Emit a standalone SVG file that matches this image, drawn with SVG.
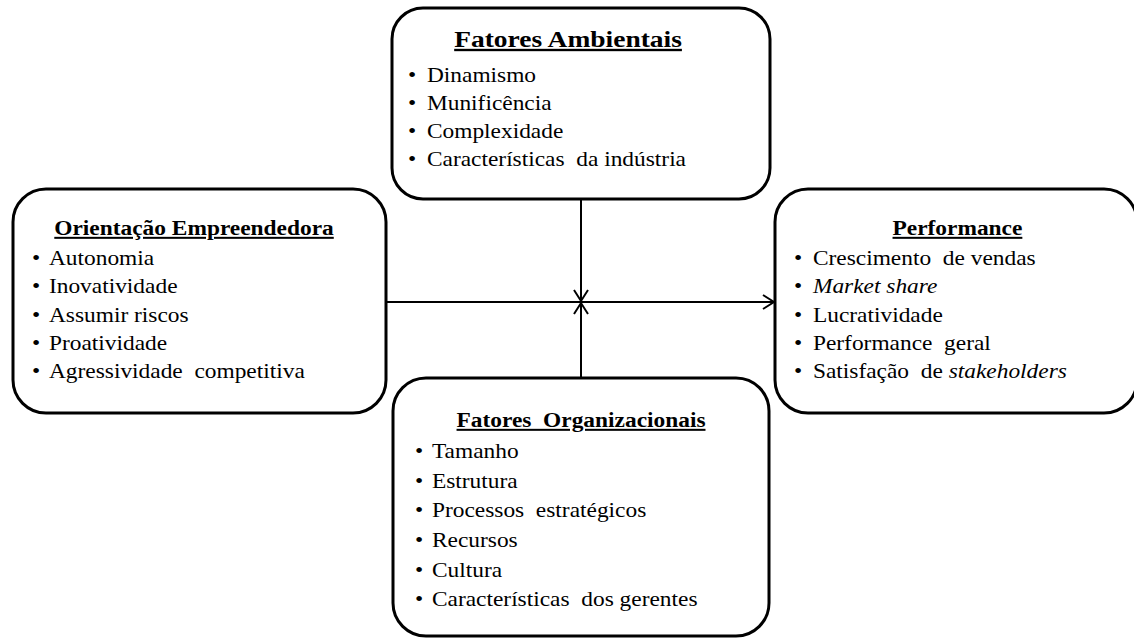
<svg xmlns="http://www.w3.org/2000/svg" width="1134" height="639" viewBox="0 0 1134 639">
  <style>
    .box { fill: #ffffff; stroke: #000000; stroke-width: 3; }
    text { font-family: "Liberation Serif", "Times New Roman", serif; font-size: 20px; fill: #000; white-space: pre; }
    .title { font-weight: bold; text-anchor: middle; text-decoration: underline; }
    .big { font-size: 23.5px; }
    .it { font-style: italic; }
    .conn { stroke: #000; stroke-width: 2; fill: none; }
  </style>
  <defs>
    <marker id="arrow" markerUnits="userSpaceOnUse" markerWidth="16" markerHeight="18" refX="12" refY="8" orient="auto">
      <path d="M1,1 L12,8 L1,15" fill="none" stroke="#000" stroke-width="2"/>
    </marker>
  </defs>

  <!-- connectors -->
  <g id="connectors">
    <line class="conn" x1="386" y1="302" x2="774" y2="302" marker-end="url(#arrow)"/>
    <line class="conn" x1="581" y1="199" x2="581" y2="301" marker-end="url(#arrow)"/>
    <line class="conn" x1="581" y1="378" x2="581" y2="303" marker-end="url(#arrow)"/>
  </g>

  <!-- environmental factors -->
  <g id="fatores-ambientais">
    <rect class="box" x="392" y="8" width="378" height="191" rx="31" ry="31"/>
    <g transform="translate(408,0) scale(1.17,1)">
      <text class="title big" x="136.8" y="47">Fatores Ambientais</text>
      <text y="82"><tspan x="0">•</tspan><tspan x="16.2">Dinamismo</tspan></text>
      <text y="110"><tspan x="0">•</tspan><tspan x="16.2">Munificência</tspan></text>
      <text y="138"><tspan x="0">•</tspan><tspan x="16.2">Complexidade</tspan></text>
      <text y="166"><tspan x="0">•</tspan><tspan x="16.2">Características  da indústria</tspan></text>
    </g>
  </g>

  <!-- entrepreneurial orientation -->
  <g id="orientacao-empreendedora">
    <rect class="box" x="13" y="189" width="373" height="224" rx="33" ry="33"/>
    <g transform="translate(32,0) scale(1.17,1)">
      <text class="title" x="138.5" y="235">Orientação Empreendedora</text>
      <text y="265"><tspan x="0">•</tspan><tspan x="14.5">Autonomia</tspan></text>
      <text y="293"><tspan x="0">•</tspan><tspan x="14.5">Inovatividade</tspan></text>
      <text y="322"><tspan x="0">•</tspan><tspan x="14.5">Assumir riscos</tspan></text>
      <text y="350"><tspan x="0">•</tspan><tspan x="14.5">Proatividade</tspan></text>
      <text y="378"><tspan x="0">•</tspan><tspan x="14.5">Agressividade  competitiva</tspan></text>
    </g>
  </g>

  <!-- performance -->
  <g id="performance">
    <rect class="box" x="775" y="189" width="362" height="224" rx="33" ry="33"/>
    <g transform="translate(794,0) scale(1.17,1)">
      <text class="title" x="139.7" y="235">Performance</text>
      <text y="265"><tspan x="0">•</tspan><tspan x="16.2">Crescimento  de vendas</tspan></text>
      <text y="293"><tspan x="0">•</tspan><tspan x="16.2" class="it">Market share</tspan></text>
      <text y="322"><tspan x="0">•</tspan><tspan x="16.2">Lucratividade</tspan></text>
      <text y="350"><tspan x="0">•</tspan><tspan x="16.2">Performance  geral</tspan></text>
      <text y="378"><tspan x="0">•</tspan><tspan x="16.2">Satisfação  de </tspan><tspan class="it">stakeholders</tspan></text>
    </g>
  </g>

  <!-- organizational factors -->
  <g id="fatores-organizacionais">
    <rect class="box" x="393" y="378" width="376" height="258" rx="33" ry="33"/>
    <g transform="translate(415,0) scale(1.17,1)">
      <text class="title" x="141.9" y="427">Fatores  Organizacionais</text>
      <text y="458"><tspan x="0">•</tspan><tspan x="14.5">Tamanho</tspan></text>
      <text y="488"><tspan x="0">•</tspan><tspan x="14.5">Estrutura</tspan></text>
      <text y="517"><tspan x="0">•</tspan><tspan x="14.5">Processos  estratégicos</tspan></text>
      <text y="547"><tspan x="0">•</tspan><tspan x="14.5">Recursos</tspan></text>
      <text y="577"><tspan x="0">•</tspan><tspan x="14.5">Cultura</tspan></text>
      <text y="606"><tspan x="0">•</tspan><tspan x="14.5">Características  dos gerentes</tspan></text>
    </g>
  </g>
</svg>
